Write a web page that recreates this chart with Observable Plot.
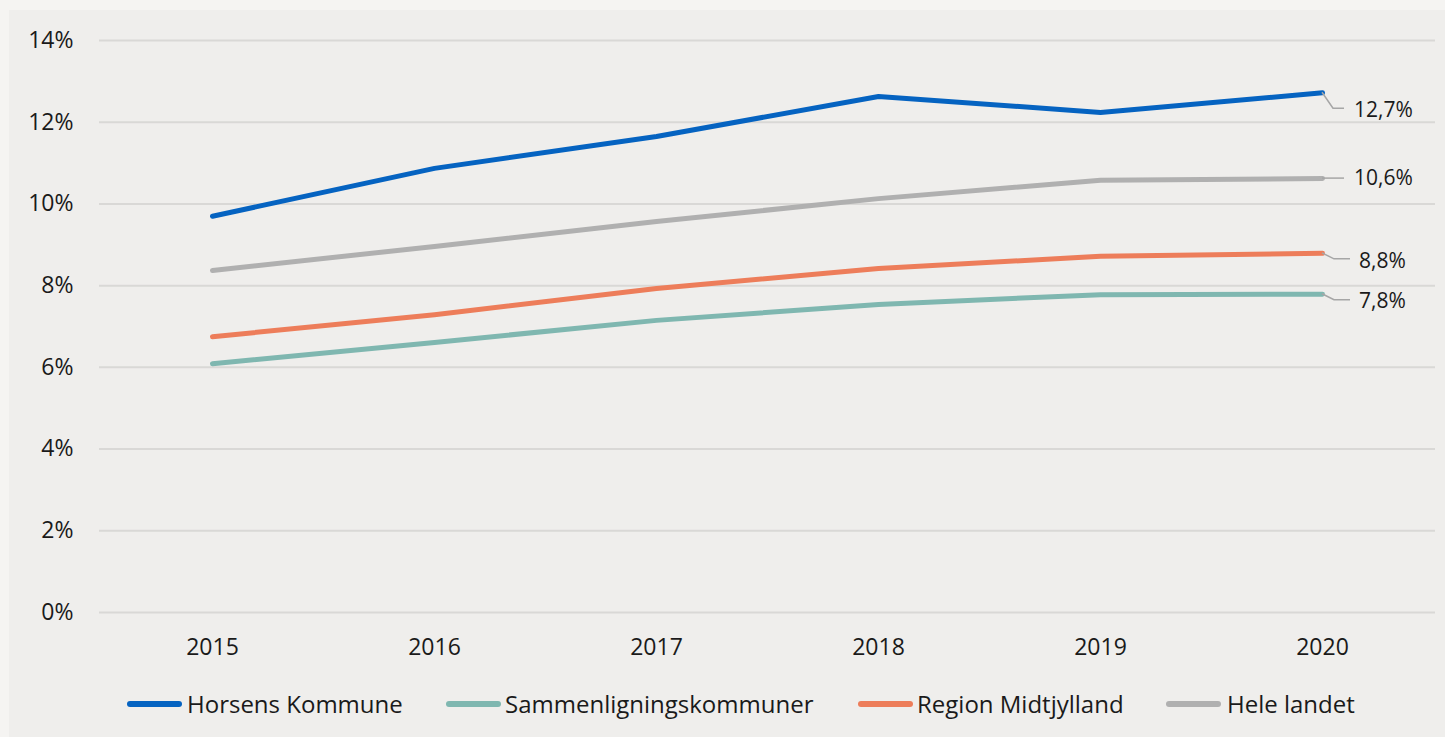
<!DOCTYPE html>
<html>
<head>
<meta charset="utf-8">
<script src="https://cdn.jsdelivr.net/npm/d3@7"></script>
<script src="https://cdn.jsdelivr.net/npm/@observablehq/plot@0.6"></script>
<style>
  html, body { margin: 0; padding: 0; background: #f5f4f2; }
  #panel { position: absolute; left: 9px; top: 10px; width: 1436px; height: 727px; background: #efeeec; font-family: "Open Sans", sans-serif; }
  #legend { position: absolute; left: 0; top: 675px; width: 100%; height: 40px; font-size: 24px; color: #1a1a1a; }
  .sw { position: absolute; top: 16px; height: 6px; border-radius: 3px; }
  .lt { position: absolute; top: 0; line-height: 38px; white-space: nowrap; }
</style>
</head>
<body>
<div id="panel"><div id="chart"></div><div id="legend"></div></div>
<script>
const years = ["2015", "2016", "2017", "2018", "2019", "2020"];
const seriesNames = ["Horsens Kommune", "Sammenligningskommuner", "Region Midtjylland", "Hele landet"];
const horsens = [9.70, 10.87, 11.65, 12.63, 12.24, 12.72];
const sammen = [6.09, 6.61, 7.15, 7.54, 7.78, 7.79];
const region = [6.75, 7.29, 7.93, 8.42, 8.72, 8.79];
const hele = [8.37, 8.96, 9.57, 10.13, 10.58, 10.62];
const endLabels = ["12,7%", "7,8%", "8,8%", "10,6%"];
const yTicks = [0, 2, 4, 6, 8, 10, 12, 14];
const colors = ["#0563c1", "#7fb7b0", "#ed7d5a", "#b0b0b0"];

const valuesBySeries = [horsens, sammen, region, hele];
const rows = [];
seriesNames.forEach((s, i) => years.forEach((y, j) => rows.push({series: s, year: y, value: valuesBySeries[i][j]})));
const ends = seriesNames.map((s, i) => ({series: s, year: years[years.length - 1], value: valuesBySeries[i][years.length - 1], label: endLabels[i]}));

// leader-line shapes (pixel offsets from the last point): [dx1, dy1, dx2, textDx, textDy]
const leader = {
  "Horsens Kommune": [11, 16, 22, 32, 17],
  "Hele landet": [0, 0, 22, 32, 0],
  "Region Midtjylland": [12, 6, 28, 37, 8],
  "Sammenligningskommuner": [12, 6, 28, 37, 7]
};

const drawOrder = ["Hele landet", "Region Midtjylland", "Sammenligningskommuner", "Horsens Kommune"];

const leaderMark = (index, scales) => {
  const g = d3.create("svg:g");
  for (const e of ends) {
    const [dx1, dy1, dx2, tdx, tdy] = leader[e.series];
    const x0 = scales.x(e.year), y0 = scales.y(e.value);
    g.append("path")
      .attr("d", `M${x0},${y0}L${x0 + dx1},${y0 + dy1}L${x0 + dx2},${y0 + dy1}`)
      .attr("fill", "none").attr("stroke", "#a6a6a6").attr("stroke-width", 1.5);
    g.append("text")
      .attr("x", x0 + tdx).attr("y", y0 + tdy).attr("dy", "0.35em")
      .attr("text-anchor", "start")
      .attr("font-size", 21).attr("fill", "#1a1a1a")
      .attr("font-family", "Open Sans, sans-serif")
      .text(e.label);
  }
  return g.node();
};

const plot = Plot.plot({
  width: 1436,
  height: 665,
  marginTop: 30,
  marginBottom: 63,
  marginLeft: 90,
  marginRight: 10,
  style: {background: "transparent", fontFamily: "Open Sans, sans-serif", color: "#1a1a1a"},
  x: {type: "point", domain: years, padding: 0.5},
  y: {domain: [0, 14]},
  color: {domain: seriesNames, range: colors},
  marks: [
    Plot.gridY(yTicks, {stroke: "#d9d8d6", strokeOpacity: 1, strokeWidth: 2}),
    Plot.axisY(yTicks, {tickSize: 0, tickPadding: 26, fontSize: 23, tickFormat: d => d + "%", label: null}),
    Plot.axisX({tickSize: 0, tickPadding: 26, fontSize: 23, label: null}),
    ...drawOrder.map(s => Plot.line(rows.filter(r => r.series === s), {x: "year", y: "value", stroke: "series", strokeWidth: 5, strokeLinecap: "round", strokeLinejoin: "round"})),
    leaderMark
  ]
});
document.getElementById("chart").appendChild(plot);

// legend layout (panel coordinates): swatch start, swatch width, text start
const legendLayout = [[118, 55, 178], [437, 55, 496], [849, 55, 908], [1157, 55, 1218]];
const legend = document.getElementById("legend");
seriesNames.forEach((s, i) => {
  const [sx, sw, tx] = legendLayout[i];
  const sw_ = document.createElement("div");
  sw_.className = "sw";
  sw_.style.left = sx + "px";
  sw_.style.width = sw + "px";
  sw_.style.background = colors[i];
  legend.appendChild(sw_);
  const t = document.createElement("div");
  t.className = "lt";
  t.style.left = tx + "px";
  t.textContent = s;
  legend.appendChild(t);
});
</script>
</body>
</html>
